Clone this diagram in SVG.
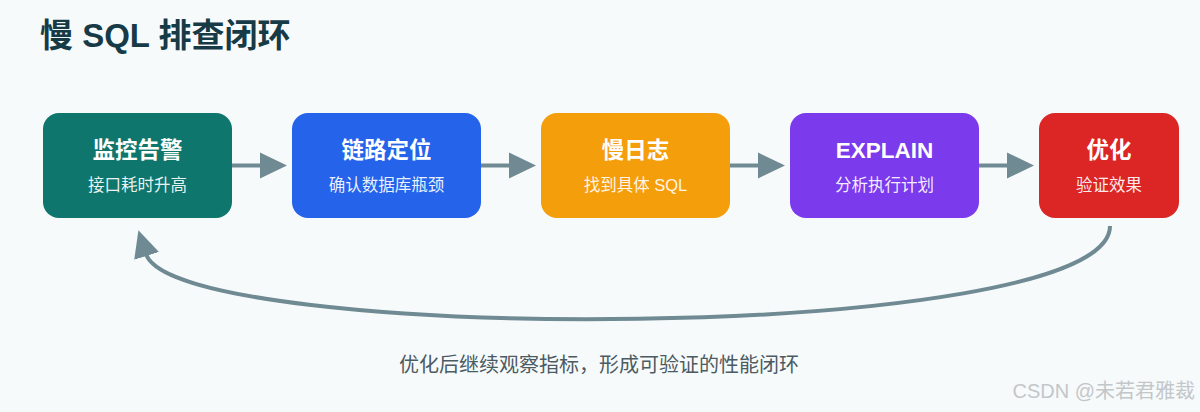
<svg xmlns="http://www.w3.org/2000/svg" width="1200" height="412" viewBox="0 0 1200 412">
<style>
text{font-family:"Liberation Sans","Noto Sans CJK SC",sans-serif}
.t{font-size:22.5px;font-weight:bold;fill:#fff;text-anchor:middle}
.s{font-size:16.5px;fill:#fff;fill-opacity:0.92;text-anchor:middle}
.c{stroke:#6f8a93;stroke-width:4;fill:none}
</style>
<defs>
<marker id="ah" markerUnits="userSpaceOnUse" markerWidth="28" markerHeight="28" viewBox="0 0 28 28" refX="2" refY="14" orient="auto">
<path d="M0 1 L27 14 L0 27 Z" fill="#6f8a93"/>
</marker>
</defs>
<rect width="1200" height="412" fill="#f7fafb"/>
<text x="40" y="47" font-size="33" font-weight="bold" fill="#173a47">慢 SQL 排查闭环</text>
<g id="connectors">
<line class="c" x1="232" y1="165.5" x2="262" y2="165.5" marker-end="url(#ah)"/>
<line class="c" x1="481" y1="165.5" x2="511" y2="165.5" marker-end="url(#ah)"/>
<line class="c" x1="730" y1="165.5" x2="760" y2="165.5" marker-end="url(#ah)"/>
<line class="c" x1="979" y1="165.5" x2="1009" y2="165.5" marker-end="url(#ah)"/>
<path class="c" d="M1110 226 C1110 345 175 345 146 254" marker-end="url(#ah)"/>
</g>
<g id="n1"><rect x="43" y="113" width="189" height="105" rx="16" fill="#0f766e"/><text class="t" x="137.5" y="158">监控告警</text><text class="s" x="137.5" y="191">接口耗时升高</text></g>
<g id="n2"><rect x="292" y="113" width="189" height="105" rx="16" fill="#2563eb"/><text class="t" x="386.5" y="158">链路定位</text><text class="s" x="386.5" y="191">确认数据库瓶颈</text></g>
<g id="n3"><rect x="541" y="113" width="189" height="105" rx="16" fill="#f59e0b"/><text class="t" x="635.5" y="158">慢日志</text><text class="s" x="635.5" y="191">找到具体 SQL</text></g>
<g id="n4"><rect x="790" y="113" width="189" height="105" rx="16" fill="#7c3aed"/><text class="t" x="884.5" y="158">EXPLAIN</text><text class="s" x="884.5" y="191">分析执行计划</text></g>
<g id="n5"><rect x="1039" y="113" width="140" height="105" rx="16" fill="#dc2626"/><text class="t" x="1109" y="158">优化</text><text class="s" x="1109" y="191">验证效果</text></g>
<text x="599" y="372" font-size="20" fill="#4b5b63" text-anchor="middle">优化后继续观察指标，形成可验证的性能闭环</text>
<text x="1195" y="398" font-size="20" fill="#c3c7c9" text-anchor="end">CSDN @未若君雅裁</text>
</svg>
